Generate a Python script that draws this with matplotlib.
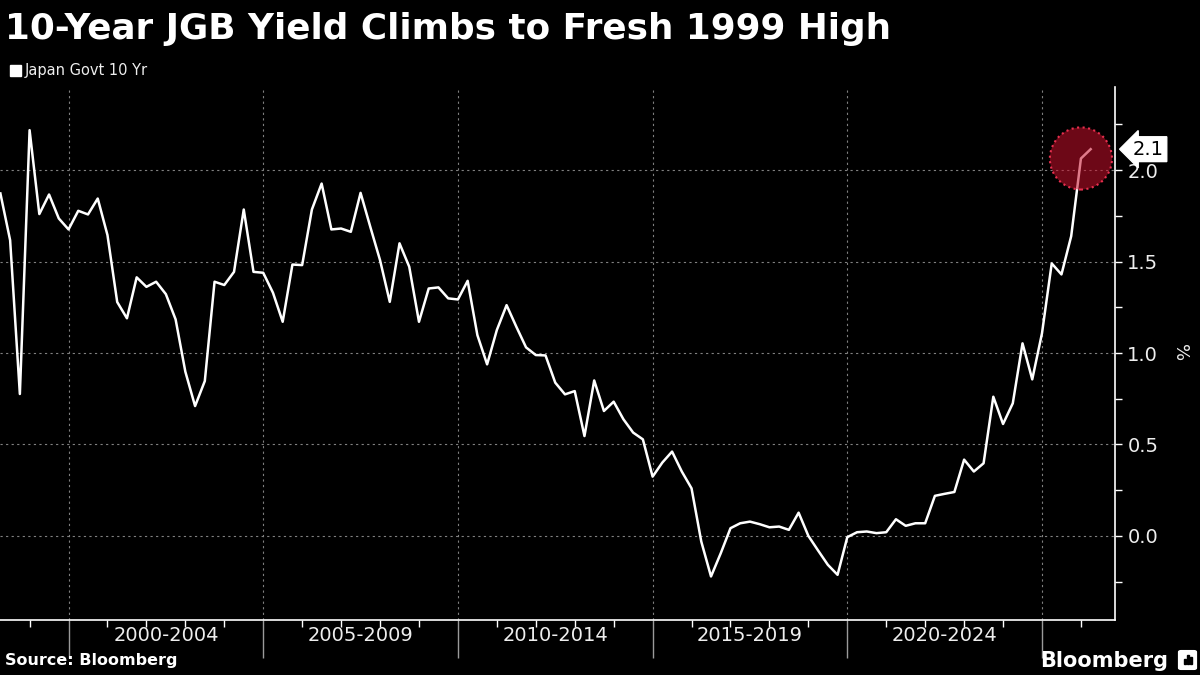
import numpy as np
import matplotlib
matplotlib.use('Agg')
import matplotlib.pyplot as plt
import matplotlib.transforms as mtransforms
from matplotlib.patches import Rectangle, FancyBboxPatch

# quarterly JGB 10y yield (Q1 1998 ... Q1 2026)
yields = [1.873, 1.617, 0.776, 2.219, 1.760, 1.867, 1.736, 1.676, 1.778, 1.758,
          1.845, 1.645, 1.279, 1.190, 1.414, 1.362, 1.390, 1.322, 1.184, 0.898,
          0.710, 0.847, 1.390, 1.372, 1.444, 1.785, 1.444, 1.439, 1.330, 1.171,
          1.484, 1.481, 1.785, 1.927, 1.676, 1.681, 1.663, 1.876, 1.690, 1.508,
          1.280, 1.600, 1.472, 1.171, 1.353, 1.359, 1.299, 1.293, 1.395, 1.098,
          0.938, 1.126, 1.262, 1.144, 1.031, 0.989, 0.987, 0.838, 0.774, 0.792,
          0.546, 0.850, 0.683, 0.734, 0.638, 0.565, 0.528, 0.324, 0.401, 0.461,
          0.352, 0.260, -0.031, -0.222, -0.095, 0.042, 0.069, 0.078, 0.064, 0.047,
          0.051, 0.033, 0.127, 0.000, -0.080, -0.158, -0.213, -0.007, 0.020, 0.024,
          0.015, 0.020, 0.091, 0.055, 0.069, 0.069, 0.219, 0.230, 0.240, 0.417,
          0.352, 0.397, 0.761, 0.612, 0.725, 1.053, 0.856, 1.108, 1.490, 1.430,
          1.639, 2.064, 2.115]
first_quarter = 1998.25
quarters = first_quarter + 0.25 * np.arange(len(yields))

period_starts = [2000, 2005, 2010, 2015, 2020, 2025]
period_labels = ['2000-2004', '2005-2009', '2010-2014', '2015-2019', '2020-2024']
y_major = [0.0, 0.5, 1.0, 1.5, 2.0]
last_label = '2.1'

title = '10-Year JGB Yield Climbs to Fresh 1999 High'
series_name = 'Japan Govt 10 Yr'

fig = plt.figure(figsize=(12, 6.75), dpi=100, facecolor='black')
ax = fig.add_axes([0.0, 0.0815, 0.929, 0.7896])
ax.set_facecolor('black')

ax.plot(quarters, yields, color='white', lw=1.8, zorder=3)

ax.set_xlim(1998.24, 2026.87)
ax.set_ylim(-0.46, 2.455)

# grid
for v in y_major:
    ax.axhline(v, color='#808080', lw=0.8, ls=(0, (2, 3)), zorder=1)
for yr in period_starts:
    ax.axvline(yr, color='#808080', lw=0.8, ls=(0, (2, 3)), zorder=1)

for s in ['left', 'top']:
    ax.spines[s].set_visible(False)
for s in ['right', 'bottom']:
    ax.spines[s].set_color('white')
    ax.spines[s].set_linewidth(1.2)

# y axis on the right
ax.yaxis.tick_right()
ax.set_yticks(y_major)
ax.set_yticklabels(['%.1f' % v for v in y_major])
ax.set_yticks(np.arange(-0.25, 2.3, 0.25), minor=True)
ax.tick_params(axis='y', which='both', colors='white', labelcolor='#eeeeee',
               labelsize=14, length=5, width=1, pad=4)

# x axis: long ticks at period edges, short ticks every year
ax.set_xticks(period_starts)
ax.set_xticklabels([''] * len(period_starts))
ax.set_xticks(range(1999, 2027), minor=True)
ax.tick_params(axis='x', which='major', colors='#9a9a9a', length=27, width=1)
ax.tick_params(axis='x', which='minor', colors='white', length=5, width=1)

trans = mtransforms.blended_transform_factory(ax.transData, ax.transAxes)
for start, lab in zip(period_starts, period_labels):
    ax.text(start + 2.5, -0.012, lab, transform=trans, ha='center', va='top',
            fontsize=14, color='#eeeeee')

fig.text(0.983, 0.477, '%', rotation=-90, ha='center', va='center',
         fontsize=13, color='#eeeeee')

# highlight circle on the latest move
ax.scatter([quarters[-2]], [yields[-2]], s=2000, facecolor=(0.78, 0.06, 0.17, 0.55),
           edgecolor='#e8304f', linewidth=1.5, linestyle=':', zorder=4)

ax.annotate(last_label, xy=(1.0, yields[-1]), xycoords=('axes fraction', 'data'),
            xytext=(13, 0), textcoords='offset points', ha='left', va='center',
            fontsize=14, color='black', annotation_clip=False,
            bbox=dict(boxstyle='larrow,pad=0.15', fc='white', ec='white'))

# title, fitted to the reference width
t = fig.text(0.004, 0.982, title, fontsize=23, fontweight='bold', color='white', va='top')
r = fig.canvas.get_renderer()
w = t.get_window_extent(r).width
t.set_fontsize(23 * 888 / w)

# legend
fig.patches.append(Rectangle((10 / 1200, 1 - 76 / 675), 11 / 1200, 11 / 675,
                             transform=fig.transFigure, color='white'))
fig.text(25 / 1200, 1 - 71 / 675, series_name, fontsize=10.5, color='#eeeeee', va='center')

# footer
fig.text(0.004, 1 - 661 / 675, 'Source: Bloomberg', fontsize=11.5, fontweight='bold',
         color='white', va='center')
fig.text(1168 / 1200, 1 - 661 / 675, 'Bloomberg', fontsize=15, fontweight='bold',
         color='white', va='center', ha='right')
fig.patches.append(FancyBboxPatch((1181 / 1200, 1 - 668 / 675), 13 / 1200, 16 / 675,
                                  boxstyle='round,pad=0.002', transform=fig.transFigure,
                                  color='white'))
for bx, bh in [(1184, 5), (1187, 9), (1190, 7)]:
    fig.patches.append(Rectangle((bx / 1200, 1 - 664 / 675), 2 / 1200, bh / 675,
                                 transform=fig.transFigure, color='black'))

fig.savefig('out.png', dpi=100, facecolor='black')
